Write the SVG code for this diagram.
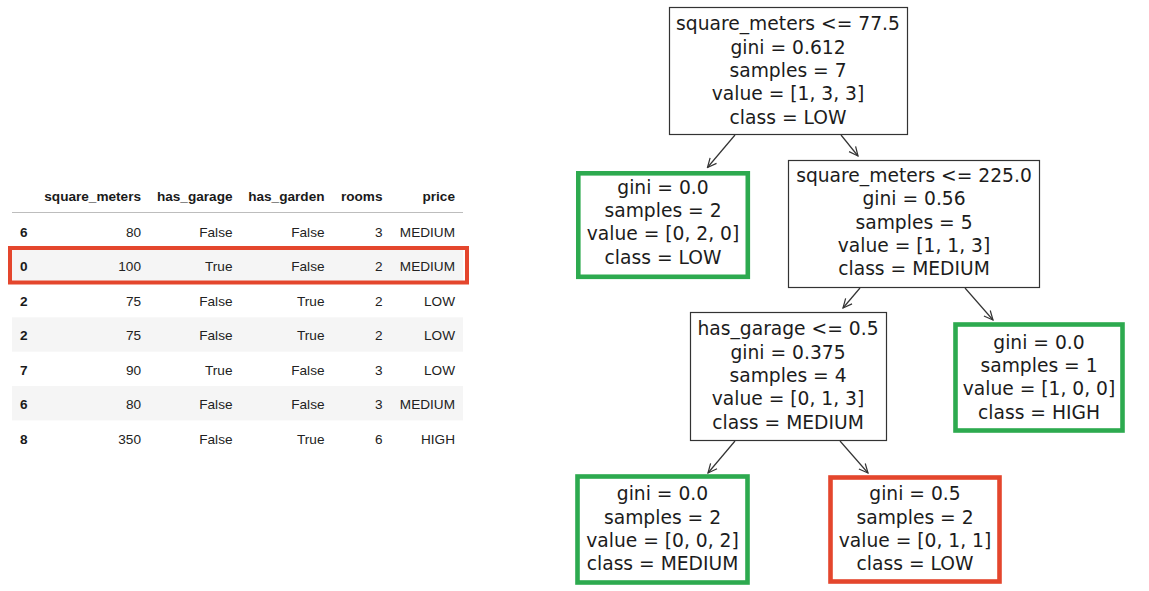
<svg xmlns="http://www.w3.org/2000/svg" width="1149" height="591" viewBox="0 0 1149 591">
<style>
.bg{fill:#ffffff}
.th{font-family:"Liberation Sans",Arial,sans-serif;font-size:13.6px;font-weight:bold;fill:#1a1a1a;text-anchor:end}
.idx{font-family:"Liberation Sans",Arial,sans-serif;font-size:13.6px;font-weight:bold;fill:#1a1a1a;text-anchor:start}
.td{font-family:"Liberation Sans",Arial,sans-serif;font-size:13.6px;fill:#222222;text-anchor:end}
.stripe{fill:#f5f5f5}
.sep{stroke:#bdbdbd;stroke-width:1}
.hl{fill:none;stroke:#e4462d;stroke-width:4}
.node{fill:#ffffff;stroke:#333333;stroke-width:1.2}
.green{fill:#ffffff;stroke:#2daa4f;stroke-width:4.6}
.red{fill:#ffffff;stroke:#e4462d;stroke-width:4.6}
.t{font-family:"DejaVu Sans",sans-serif;font-size:18.7px;fill:#1c1c1c;text-anchor:middle}
.edge{stroke:#333333;stroke-width:1.2;fill:none;marker-end:url(#arr)}
</style>
<defs>
<marker id="arr" viewBox="0 0 12 12" refX="11" refY="6" markerWidth="12" markerHeight="12" markerUnits="userSpaceOnUse" orient="auto">
<path d="M2,1.8 L11,6 L2,10.2" fill="none" stroke="#333333" stroke-width="1.2"/>
</marker>
</defs>
<rect class="bg" x="0" y="0" width="1149" height="591"/>

<g id="table">
<text class="th" x="141" y="201">square_meters</text>
<text class="th" x="232.5" y="201">has_garage</text>
<text class="th" x="324.5" y="201">has_garden</text>
<text class="th" x="382.5" y="201">rooms</text>
<text class="th" x="455" y="201">price</text>
<line class="sep" x1="12" y1="212.5" x2="463" y2="212.5"/>
<rect class="stripe" x="12" y="248.5" width="451" height="34.4"/>
<rect class="stripe" x="12" y="317.3" width="451" height="34.4"/>
<rect class="stripe" x="12" y="386" width="451" height="34.4"/>

<g id="row1">
<text class="idx" x="20" y="236.6">6</text>
<text class="td" x="141" y="236.6">80</text>
<text class="td" x="232.5" y="236.6">False</text>
<text class="td" x="324.5" y="236.6">False</text>
<text class="td" x="382.5" y="236.6">3</text>
<text class="td" x="455" y="236.6">MEDIUM</text>
</g>
<g id="row2">
<text class="idx" x="20" y="271">0</text>
<text class="td" x="141" y="271">100</text>
<text class="td" x="232.5" y="271">True</text>
<text class="td" x="324.5" y="271">False</text>
<text class="td" x="382.5" y="271">2</text>
<text class="td" x="455" y="271">MEDIUM</text>
</g>
<g id="row3">
<text class="idx" x="20" y="305.6">2</text>
<text class="td" x="141" y="305.6">75</text>
<text class="td" x="232.5" y="305.6">False</text>
<text class="td" x="324.5" y="305.6">True</text>
<text class="td" x="382.5" y="305.6">2</text>
<text class="td" x="455" y="305.6">LOW</text>
</g>
<g id="row4">
<text class="idx" x="20" y="340">2</text>
<text class="td" x="141" y="340">75</text>
<text class="td" x="232.5" y="340">False</text>
<text class="td" x="324.5" y="340">True</text>
<text class="td" x="382.5" y="340">2</text>
<text class="td" x="455" y="340">LOW</text>
</g>
<g id="row5">
<text class="idx" x="20" y="374.9">7</text>
<text class="td" x="141" y="374.9">90</text>
<text class="td" x="232.5" y="374.9">True</text>
<text class="td" x="324.5" y="374.9">False</text>
<text class="td" x="382.5" y="374.9">3</text>
<text class="td" x="455" y="374.9">LOW</text>
</g>
<g id="row6">
<text class="idx" x="20" y="409.2">6</text>
<text class="td" x="141" y="409.2">80</text>
<text class="td" x="232.5" y="409.2">False</text>
<text class="td" x="324.5" y="409.2">False</text>
<text class="td" x="382.5" y="409.2">3</text>
<text class="td" x="455" y="409.2">MEDIUM</text>
</g>
<g id="row7">
<text class="idx" x="20" y="443.9">8</text>
<text class="td" x="141" y="443.9">350</text>
<text class="td" x="232.5" y="443.9">False</text>
<text class="td" x="324.5" y="443.9">True</text>
<text class="td" x="382.5" y="443.9">6</text>
<text class="td" x="455" y="443.9">HIGH</text>
</g>
<rect id="row-highlight" class="hl" x="10" y="248" width="457" height="34.5"/>
</g>

<g id="connectors">
<line class="edge" x1="735" y1="135" x2="707.5" y2="167.5"/>
<line class="edge" x1="841" y1="135" x2="858" y2="156"/>
<line class="edge" x1="860" y1="288" x2="843" y2="308"/>
<line class="edge" x1="965" y1="288" x2="993" y2="320"/>
<line class="edge" x1="735" y1="441" x2="708" y2="473"/>
<line class="edge" x1="840" y1="441" x2="868" y2="473"/>
</g>

<g id="root">
<rect class="node" x="669.5" y="7.5" width="238" height="127"/>
<text class="t" x="788" y="30.3">square_meters &lt;= 77.5</text>
<text class="t" x="788" y="53.6">gini = 0.612</text>
<text class="t" x="788" y="76.9">samples = 7</text>
<text class="t" x="788" y="100.2">value = [1, 3, 3]</text>
<text class="t" x="788" y="123.5">class = LOW</text>
</g>

<g id="leaf-low">
<rect class="green" x="578.3" y="173.3" width="169.5" height="103.5"/>
<text class="t" x="663" y="193.7">gini = 0.0</text>
<text class="t" x="663" y="217">samples = 2</text>
<text class="t" x="663" y="240.3">value = [0, 2, 0]</text>
<text class="t" x="663" y="263.6">class = LOW</text>
</g>

<g id="split-225">
<rect class="node" x="788.5" y="160.5" width="251" height="127"/>
<text class="t" x="914" y="182">square_meters &lt;= 225.0</text>
<text class="t" x="914" y="205.3">gini = 0.56</text>
<text class="t" x="914" y="228.6">samples = 5</text>
<text class="t" x="914" y="251.9">value = [1, 1, 3]</text>
<text class="t" x="914" y="275.2">class = MEDIUM</text>
</g>

<g id="split-garage">
<rect class="node" x="690.5" y="312.5" width="196" height="128"/>
<text class="t" x="788" y="335.3">has_garage &lt;= 0.5</text>
<text class="t" x="788" y="358.6">gini = 0.375</text>
<text class="t" x="788" y="381.9">samples = 4</text>
<text class="t" x="788" y="405.2">value = [0, 1, 3]</text>
<text class="t" x="788" y="428.5">class = MEDIUM</text>
</g>

<g id="leaf-high">
<rect class="green" x="955.5" y="324.5" width="167" height="106"/>
<text class="t" x="1039" y="348.7">gini = 0.0</text>
<text class="t" x="1039" y="372">samples = 1</text>
<text class="t" x="1039" y="395.3">value = [1, 0, 0]</text>
<text class="t" x="1039" y="418.6">class = HIGH</text>
</g>

<g id="leaf-medium">
<rect class="green" x="577.5" y="476.5" width="170" height="106"/>
<text class="t" x="662.5" y="500.3">gini = 0.0</text>
<text class="t" x="662.5" y="523.6">samples = 2</text>
<text class="t" x="662.5" y="546.9">value = [0, 0, 2]</text>
<text class="t" x="662.5" y="570.2">class = MEDIUM</text>
</g>

<g id="leaf-mixed">
<rect class="red" x="830.5" y="477.5" width="169" height="104"/>
<text class="t" x="915" y="500.3">gini = 0.5</text>
<text class="t" x="915" y="523.6">samples = 2</text>
<text class="t" x="915" y="546.9">value = [0, 1, 1]</text>
<text class="t" x="915" y="570.2">class = LOW</text>
</g>
</svg>
